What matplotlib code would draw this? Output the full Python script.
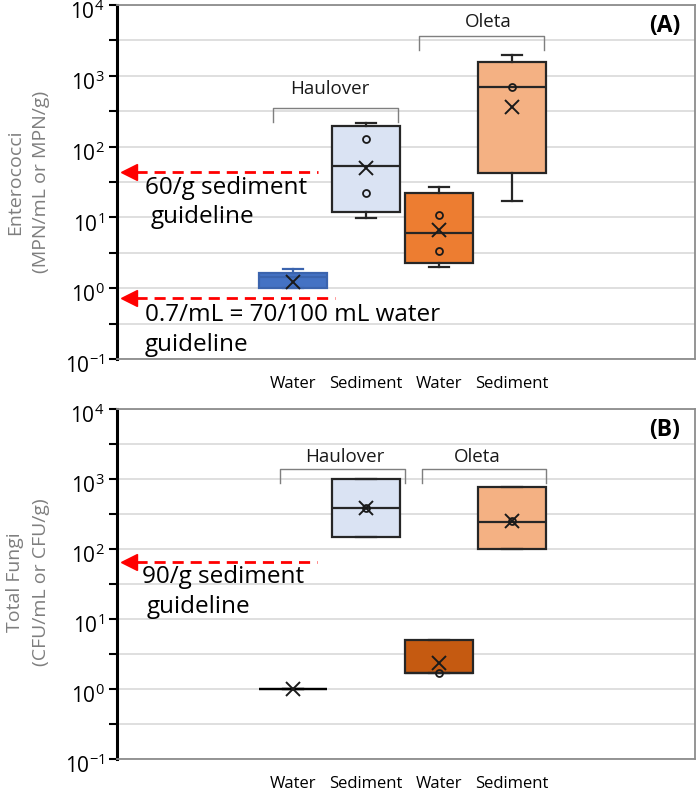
import matplotlib
matplotlib.use("Agg")
import matplotlib.pyplot as plt
import matplotlib.ticker as mticker
import matplotlib.transforms as mtransforms
import numpy as np

plt.rcParams['font.family'] = ['Open Sans', 'DejaVu Sans']
plt.rcParams['mathtext.default'] = 'regular'

# ---------------- data ----------------
categories = ["Water", "Sediment", "Water", "Sediment"]
sites = ["Haulover", "Oleta"]

# Panel A: Enterococci (whislo, q1, med, q3, whishi, mean)
entero_whislo = [1.0, 9.7, 1.98, 16.8]
entero_q1 = [1.02, 11.8, 2.25, 43]
entero_med = [1.45, 54, 5.95, 700]
entero_q3 = [1.65, 198, 21.8, 1575]
entero_whishi = [1.85, 218, 26.5, 1977]
entero_mean = [1.22, 50.6, 6.56, 366]
entero_inner = [[], [130, 21.8], [10.7, 3.3], [700]]

# Panel B: Total fungi
fungi_whislo = [1.0, 148, 1.7, 100]
fungi_q1 = [1.0, 148, 1.7, 100]
fungi_med = [1.0, 385, 1.7, 243]
fungi_q3 = [1.0, 1000, 5.0, 769]
fungi_whishi = [1.0, 1000, 5.0, 769]
fungi_mean = [1.0, 385, 2.35, 250]
fungi_inner = [[], [385], [1.7], [250]]

guidelines_A = [43.8, 0.72]
guideline_labels_A = [("60/g sediment", "guideline"), ("0.7/mL = 70/100 mL water", "guideline")]
guidelines_B = [65]
guideline_labels_B = [("90/g sediment", "guideline")]

colors_A = ["#4472C4", "#DAE3F3", "#ED7D31", "#F4B183"]
colors_B = ["none", "#DAE3F3", "#C55A11", "#F4B183"]
edges_A = ["#3B64AE", "#262626", "#262626", "#262626"]
edges_B = ["#000000", "#262626", "#262626", "#262626"]

W, H = 697, 791
fig = plt.figure(figsize=(W / 100, H / 100), dpi=100)

def px_axes(x0, y0, x1, y1):
    return fig.add_axes([x0 / W, 1 - y1 / H, (x1 - x0) / W, (y1 - y0) / H])

axA = px_axes(117, 5, 695, 359)
axB = px_axes(117, 409, 695, 759)

positions = [1, 2, 3, 4]

def draw_panel(ax, wl, q1, med, q3, wh, mean, inner, colors, edges, ylabel, ylab_y, tag,
               brackets, guides, garrow, glabels, gtext_pos):
    stats = []
    for i in range(4):
        stats.append(dict(whislo=wl[i], q1=q1[i], med=med[i], q3=q3[i], whishi=wh[i],
                          fliers=[], label=categories[i]))
    ax.set_yscale('log')
    ax.set_ylim(0.1, 1e4)
    ax.set_xlim(-1.411, 6.507)
    # grid lines
    for k in range(-1, 5):
        ax.axhline(10.0 ** k, color='#D9D9D9', lw=1.2, zorder=0)
        if k < 4:
            ax.axhline(10.0 ** (k + 0.5), color='#D9D9D9', lw=1.2, zorder=0)
    bp = ax.bxp(stats, positions=positions, widths=0.92, patch_artist=True,
                showfliers=False, capwidths=0.27, manage_ticks=False)
    for i, box in enumerate(bp['boxes']):
        box.set_facecolor(colors[i])
        box.set_edgecolor(edges[i])
        box.set_linewidth(1.6)
        box.set_zorder(2)
        for art in (bp['whiskers'][2 * i], bp['whiskers'][2 * i + 1],
                    bp['caps'][2 * i], bp['caps'][2 * i + 1], bp['medians'][i]):
            art.set_color(edges[i])
            art.set_linewidth(1.6)
            art.set_zorder(3)
    ax.plot(positions, mean, linestyle='none', marker='x', color='#1a1a1a',
            markersize=10, markeredgewidth=1.4, zorder=5)
    for i, pts in enumerate(inner):
        if pts:
            ax.plot([positions[i]] * len(pts), pts, linestyle='none', marker='o',
                    markerfacecolor='none', markeredgecolor='#1a1a1a', markersize=5,
                    markeredgewidth=1.3, zorder=4)
    # spines
    for s in ['top', 'right', 'bottom']:
        ax.spines[s].set_color('#8C8C8C')
        ax.spines[s].set_linewidth(1.3)
    ax.spines['left'].set_color('#000000')
    ax.spines['left'].set_linewidth(2.2)
    ax.yaxis.set_major_locator(mticker.LogLocator(base=10, numticks=10))
    ax.yaxis.set_minor_locator(mticker.FixedLocator([10.0 ** (k + 0.5) for k in range(-1, 4)]))
    ax.yaxis.set_minor_formatter(mticker.NullFormatter())
    ax.tick_params(axis='y', which='both', length=6, width=1.5, direction='out',
                   labelsize=15, pad=3, color='#000000')
    offset = mtransforms.ScaledTranslation(0, -5 / 100, fig.dpi_scale_trans)
    for lab in ax.get_yticklabels():
        lab.set_transform(lab.get_transform() + offset)
    ax.set_xticks(positions)
    ax.set_xticklabels(categories, fontsize=12)
    ax.tick_params(axis='x', length=0, pad=12)
    fig.text(28 / W, 1 - ylab_y / H, ylabel, rotation=90, ha='center', va='center',
             fontsize=14, color='#7F7F7F', linespacing=1.6, multialignment='center')
    ax.text(0.948, 0.94, tag, transform=ax.transAxes, fontsize=16.5, fontweight='bold',
            ha='center', va='center')
    # brackets
    for (xa, xb, ytop, ybot, lx, ly, name) in brackets:
        ax.plot([xa, xa, xb, xb], [ybot, ytop, ytop, ybot], color='#7F7F7F', lw=1.0, zorder=1)
        ax.text(lx, ly, name, fontsize=13.5, ha='center', va='center', color='#1a1a1a')
    # guideline arrows
    for g, xs, (l1, l2), ((tx1, ty1), (tx2, ty2)) in zip(guides, garrow, glabels, gtext_pos):
        ax.plot([-1.15, xs], [g, g], color='#FF0000', lw=2.0, linestyle=(0, (4, 2.5)), zorder=6)
        ax.plot([-1.25], [g], marker='<', color='#FF0000', markersize=12, linestyle='none', zorder=6)
        ax.text(tx1, ty1, l1, transform=ax.transAxes, fontsize=17.5, ha='left', va='center')
        ax.text(tx2, ty2, l2, transform=ax.transAxes, fontsize=17.5, ha='left', va='center')

draw_panel(axA, entero_whislo, entero_q1, entero_med, entero_q3, entero_whishi,
           entero_mean, entero_inner, colors_A, edges_A,
           "Enterococci\n(MPN/mL or MPN/g)", 182, "(A)",
           [(0.726, 2.438, 355, 225, 1.507, 656, sites[0]),
            (2.726, 4.438, 3650, 2320, 3.67, 5770, sites[1])],
           guidelines_A, [1.34, 1.57], guideline_labels_A,
           [((0.048, 0.483), (0.058, 0.401)), ((0.048, 0.124), (0.048, 0.040))])

draw_panel(axB, fungi_whislo, fungi_q1, fungi_med, fungi_q3, fungi_whishi,
           fungi_mean, fungi_inner, colors_B, edges_B,
           "Total Fungi\n(CFU/mL or CFU/g)", 582, "(B)",
           [(0.822, 2.534, 1390, 877, 1.71, 2060, sites[0]),
            (2.767, 4.466, 1390, 877, 3.53, 2060, sites[1])],
           guidelines_B, [1.33], guideline_labels_B,
           [((0.043, 0.52), (0.052, 0.434))])

fig.savefig("out.png", dpi=100)
